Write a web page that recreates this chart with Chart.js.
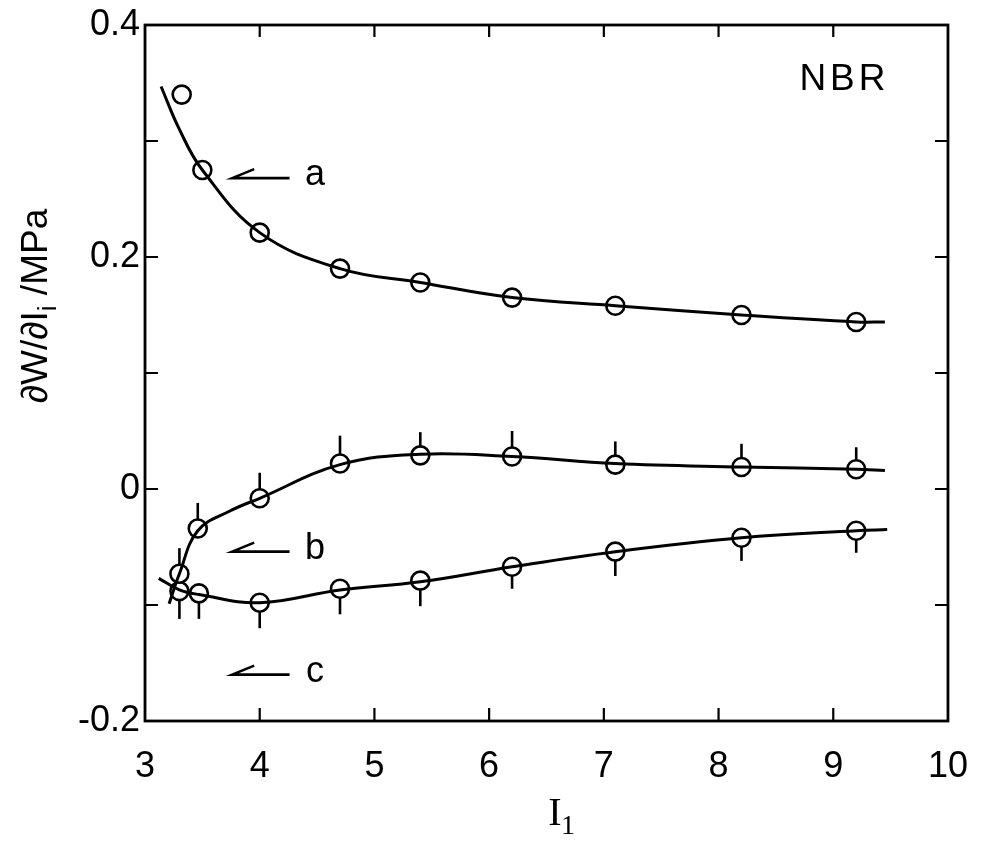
<!DOCTYPE html>
<html>
<head>
<meta charset="utf-8">
<script src="https://cdn.jsdelivr.net/npm/chart.js@4.4.1/dist/chart.umd.min.js"></script>
<style>
	body { margin: 0; background: #fff; }
	#wrap { width: 984px; height: 842px; }
</style>
</head>
<body>
<div id="wrap"><canvas id="chart" width="984" height="842"></canvas></div>
<script>
// tick values / labels
const xTickValues = [3, 4, 5, 6, 7, 8, 9, 10];
const yTickValues = [-0.2, 0, 0.2, 0.4];
const yTickLabels = ['-0.2', '0', '0.2', '0.4'];
const yMinorTicks = [-0.1, 0.1, 0.3];

// measured points
const aX = [3.5, 4.0, 4.7, 5.4, 6.2, 7.1, 8.2, 9.2];
const aY = [0.275, 0.221, 0.19, 0.178, 0.165, 0.158, 0.15, 0.144];
const aOutX = [3.32];
const aOutY = [0.34];

const bX = [3.3, 3.46, 4.0, 4.7, 5.4, 6.2, 7.1, 8.2, 9.2];
const bY = [-0.073, -0.034, -0.008, 0.022, 0.029, 0.028, 0.021, 0.019, 0.017];
const bErr = [0.022, 0.022, 0.022, 0.024, 0.02, 0.022, 0.02, 0.02, 0.019];

const cX = [3.3, 3.47, 4.0, 4.7, 5.4, 6.2, 7.1, 8.2, 9.2];
const cY = [-0.088, -0.09, -0.098, -0.086, -0.079, -0.067, -0.054, -0.042, -0.036];
const cErr = [0.024, 0.022, 0.022, 0.022, 0.022, 0.019, 0.021, 0.02, 0.019];

// fitted curves
const aCurveX = [3.14, 3.3, 3.5, 4.0, 4.7, 5.4, 6.2, 7.1, 8.2, 9.2, 9.45];
const aCurveY = [0.347, 0.31, 0.275, 0.221, 0.19, 0.178, 0.165, 0.158, 0.15, 0.144, 0.144];
const bCurveX = [3.21, 3.3, 3.46, 3.74, 4.0, 4.7, 5.4, 6.2, 7.1, 8.2, 9.2, 9.45];
const bCurveY = [-0.099, -0.073, -0.036, -0.019, -0.008, 0.021, 0.03, 0.028, 0.022, 0.019, 0.017, 0.016];
const cCurveX = [3.12, 3.3, 3.47, 4.0, 4.7, 5.4, 6.2, 7.1, 8.2, 9.2, 9.47];
const cCurveY = [-0.077, -0.087, -0.091, -0.098, -0.087, -0.08, -0.067, -0.054, -0.042, -0.036, -0.035];

// annotation texts
const seriesLabels = ['a', 'b', 'c'];
const labelY = [0.268, -0.054, -0.16];
const arrowFromX = 4.26, arrowToX = 3.76, labelX = 4.5;

const FONT = "'Liberation Sans', Arial, sans-serif";
const zip = (xs, ys) => xs.map((x, i) => ({ x, y: ys[i] }));

const curve = (xs, ys) => ({
	type: 'line',
	data: zip(xs, ys),
	borderColor: '#000',
	borderWidth: 3,
	pointRadius: 0,
	tension: 0.4,
	fill: false,
});
const marks = (xs, ys) => ({
	type: 'scatter',
	data: zip(xs, ys),
	pointRadius: 9,
	pointBorderWidth: 2.6,
	pointBorderColor: '#000',
	pointBackgroundColor: '#fff',
});

const errorBars = {
	id: 'errorBars',
	beforeDatasetsDraw(chart) {
		const { ctx, scales: { x, y } } = chart;
		ctx.save();
		ctx.strokeStyle = '#000';
		ctx.lineWidth = 2.6;
		bX.forEach((v, i) => {
			const px = x.getPixelForValue(v);
			ctx.beginPath();
			ctx.moveTo(px, y.getPixelForValue(bY[i]));
			ctx.lineTo(px, y.getPixelForValue(bY[i] + bErr[i]));
			ctx.stroke();
		});
		cX.forEach((v, i) => {
			const px = x.getPixelForValue(v);
			ctx.beginPath();
			ctx.moveTo(px, y.getPixelForValue(cY[i]));
			ctx.lineTo(px, y.getPixelForValue(cY[i] - cErr[i]));
			ctx.stroke();
		});
		ctx.restore();
	},
};

const frame = {
	id: 'frame',
	afterDraw(chart) {
		const { ctx, chartArea: { left, right, top, bottom }, scales: { x, y } } = chart;
		ctx.save();
		ctx.strokeStyle = '#000';
		ctx.lineWidth = 2.8;
		ctx.strokeRect(left, top, right - left, bottom - top);

		ctx.lineWidth = 2.2;
		ctx.beginPath();
		xTickValues.slice(1, -1).forEach((v) => {
			const px = x.getPixelForValue(v);
			ctx.moveTo(px, bottom); ctx.lineTo(px, bottom - 13);
			ctx.moveTo(px, top); ctx.lineTo(px, top + 12);
		});
		yTickValues.concat(yMinorTicks).forEach((v) => {
			const py = y.getPixelForValue(v);
			ctx.moveTo(left, py); ctx.lineTo(left + 13, py);
			ctx.moveTo(right, py); ctx.lineTo(right - 13, py);
		});
		ctx.stroke();

		// arrows with single barb
		ctx.lineWidth = 2.6;
		ctx.fillStyle = '#000';
		ctx.font = `36px ${FONT}`;
		ctx.textAlign = 'center';
		ctx.textBaseline = 'middle';
		seriesLabels.forEach((t, i) => {
			const py = y.getPixelForValue(labelY[i]);
			const x0 = x.getPixelForValue(arrowToX), x1 = x.getPixelForValue(arrowFromX);
			ctx.beginPath();
			ctx.moveTo(x1, py); ctx.lineTo(x0, py);
			ctx.lineTo(x0 + 22, py - 9);
			ctx.stroke();
			ctx.fillText(t, x.getPixelForValue(labelX) - 2, py - 3);
		});

		ctx.font = `37px ${FONT}`;
		ctx.letterSpacing = '4px';
		ctx.fillText('NBR', x.getPixelForValue(9.08) + 2, y.getPixelForValue(0.353));
		ctx.letterSpacing = '0px';

		// x title: I1
		ctx.font = "40px 'Liberation Serif', serif";
		ctx.fillText('I', 555, 814);
		ctx.font = "28px 'Liberation Serif', serif";
		ctx.fillText('1', 568, 827);

		// y title: dW/dIi /MPa
		ctx.translate(37, (top + bottom) / 2 - 67);
		ctx.rotate(-Math.PI / 2);
		ctx.textAlign = 'left';
		const p1 = '\u2202W/\u2202I', p2 = 'i', p3 = ' /MPa';
		ctx.font = `37px ${FONT}`;
		const w1 = ctx.measureText(p1).width;
		ctx.font = `26px ${FONT}`;
		const w2 = ctx.measureText(p2).width;
		ctx.font = `37px ${FONT}`;
		const w3 = ctx.measureText(p3).width;
		const sx = -(w1 + w2 + w3) / 2;
		ctx.fillText(p1, sx, 0);
		ctx.font = `26px ${FONT}`;
		ctx.fillText(p2, sx + w1, 12);
		ctx.font = `37px ${FONT}`;
		ctx.fillText(p3, sx + w1 + w2, 0);
		ctx.restore();
	},
};

new Chart(document.getElementById('chart'), {
	data: {
		datasets: [
			curve(aCurveX, aCurveY),
			curve(bCurveX, bCurveY),
			curve(cCurveX, cCurveY),
			marks(aX, aY),
			marks(aOutX, aOutY),
			marks(bX, bY),
			marks(cX, cY),
		],
	},
	options: {
		responsive: false,
		animation: false,
		layout: { padding: { top: 25, right: 22, left: 0, bottom: 0 } },
		plugins: { legend: { display: false }, tooltip: { enabled: false } },
		scales: {
			x: {
				type: 'linear',
				min: 3,
				max: 10,
				afterBuildTicks: (s) => { s.ticks = xTickValues.map((v) => ({ value: v })); },
				afterFit: (s) => { s.height = 121; },
				grid: { display: false },
				border: { display: false },
				ticks: { color: '#000', padding: 16, font: { family: FONT, size: 36 } },
			},
			y: {
				type: 'linear',
				min: -0.2,
				max: 0.4,
				afterBuildTicks: (s) => { s.ticks = yTickValues.map((v) => ({ value: v })); },
				afterFit: (s) => { s.width = 145; },
				grid: { display: false, tickLength: 5 },
				border: { display: false },
				ticks: {
					color: '#000',
					padding: 0,
					font: { family: FONT, size: 36 },
					callback: (v, i) => yTickLabels[i],
				},
			},
		},
	},
	plugins: [errorBars, frame],
});
</script>
</body>
</html>
